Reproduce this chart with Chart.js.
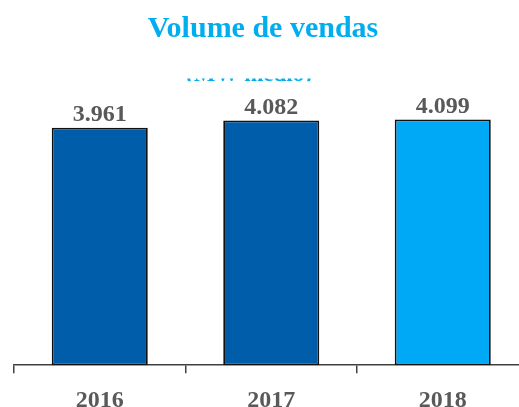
<!DOCTYPE html>
<html>
<head>
<meta charset="utf-8">
<script src="https://cdn.jsdelivr.net/npm/chart.js"></script>
<style>
  html, body { margin: 0; padding: 0; background: #fff; overflow: hidden; }
  #wrap { width: 519px; height: 407px; overflow: hidden; }
</style>
</head>
<body>
<div id="wrap"><canvas id="grafica" width="530" height="428"></canvas></div>
<script>
const anos = ['2016', '2017', '2018'];
const volumes = [3961, 4082, 4099];
const rotulos = ['3.961', '4.082', '4.099'];
const cores = ['#005DA9', '#005DA9', '#00A9F6'];
const titulo = 'Volume de vendas';
const subtitulo = '(MW médio)';

const serif = "'Liberation Serif', 'DejaVu Serif', serif";

const textos = {
    id: 'textos',
    afterDraw(chart) {
        const ctx = chart.ctx;
        ctx.save();
        ctx.textAlign = 'center';
        ctx.textBaseline = 'alphabetic';

        ctx.fillStyle = '#00AEF0';
        ctx.font = 'bold 30px ' + serif;
        ctx.fillText(titulo, 263, 37);

        // subtitulo coberto, so aparece a base
        ctx.save();
        ctx.beginPath();
        ctx.rect(0, 78.5, 530, 2.7);
        ctx.clip();
        ctx.font = 'bold 23px ' + serif;
        ctx.fillText(subtitulo, 249, 81);
        ctx.restore();

        ctx.fillStyle = '#595959';
        ctx.font = 'bold 24px ' + serif;
        const meta = chart.getDatasetMeta(0);
        meta.data.forEach((bar, i) => {
            ctx.fillText(rotulos[i], bar.x, bar.y - 7);
        });
        ctx.restore();
    }
};

new Chart(document.getElementById('grafica').getContext('2d'), {
    type: 'bar',
    data: {
        labels: anos,
        datasets: [{
            data: volumes,
            backgroundColor: cores,
            borderColor: '#111111',
            borderWidth: 1.8,
            borderSkipped: false,
            barPercentage: 0.56,
            categoryPercentage: 1
        }]
    },
    options: {
        responsive: false,
        animation: false,
        layout: { padding: { top: 95.5, left: 14, right: 1.5, bottom: 0 } },
        plugins: {
            legend: { display: false },
            tooltip: { enabled: false }
        },
        scales: {
            y: { display: false, min: 0, max: 4500 },
            x: {
                grid: {
                    display: true,
                    offset: true,
                    drawOnChartArea: false,
                    tickLength: 8,
                    color: '#404040',
                    lineWidth: 1.5
                },
                border: { display: true, color: '#404040', width: 1.5 },
                ticks: {
                    color: '#595959',
                    padding: 13,
                    font: { family: serif, size: 24, weight: 'bold' }
                }
            }
        }
    },
    plugins: [textos]
});
</script>
</body>
</html>
